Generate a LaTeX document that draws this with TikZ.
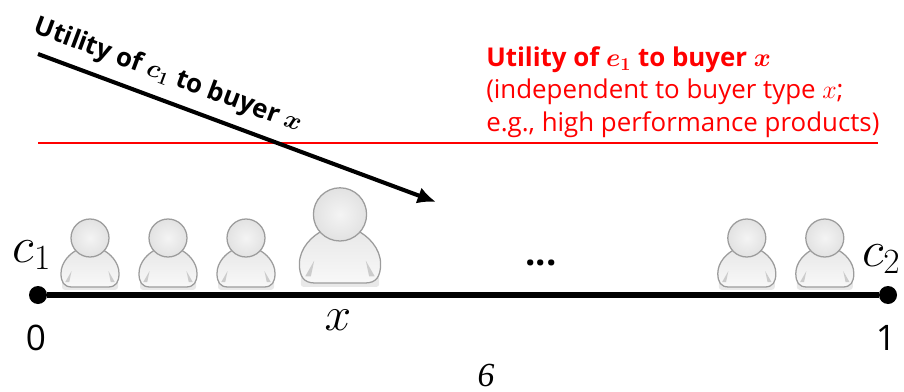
\RequirePackage{fix-cm}
\documentclass[tikz,border=0pt]{standalone}
\usepackage{amsmath,amssymb,bm}
\usepackage{fontspec}
\setmainfont{Open Sans}
\newfontfamily\pagefont{Liberation Serif}
\usetikzlibrary{arrows.meta,positioning,calc}
\definecolor{Rim}{HTML}{9C9C9C}
\definecolor{HeadIn}{HTML}{F4F4F4}
\definecolor{HeadOut}{HTML}{E2E2E2}
\definecolor{BodyTop}{HTML}{E8E8E8}
\definecolor{BodyLow}{HTML}{F8F8F8}
\definecolor{Fold}{HTML}{CCCCCC}
\definecolor{Drop}{HTML}{E8E8E8}
\definecolor{Red}{HTML}{FF0000}

\begin{document}
\begin{tikzpicture}[
    buyer/.pic={
      \fill[Drop,rounded corners=2pt] (-0.7,-0.07) rectangle (0.7,0.2);
      \draw[Rim,line width=0.9pt,top color=BodyTop,bottom color=BodyLow]
        (-0.45,0) .. controls (-0.65,0) and (-0.725,0.12) .. (-0.725,0.34)
        .. controls (-0.725,0.62) and (-0.5,0.85) .. (-0.28,0.95)
        -- (0.28,0.95)
        .. controls (0.5,0.85) and (0.725,0.62) .. (0.725,0.34)
        .. controls (0.725,0.12) and (0.65,0) .. (0.45,0) -- cycle;
      \fill[Fold] (-0.62,0.12) -- (-0.46,0.4) -- (-0.52,0.12) -- cycle;
      \fill[Fold] (0.62,0.12) -- (0.46,0.4) -- (0.52,0.12) -- cycle;
      \draw[Rim,line width=0.9pt,inner color=HeadIn,outer color=HeadOut]
        (0,1.225) circle (0.475);
    },
    dotnode/.style={circle,fill=black,inner sep=0pt,minimum size=0.45cm},
    axisline/.style={line width=4.4pt,black},
    utilarrow/.style={line width=2.9pt,black,-{Latex[length=0.46cm,width=0.42cm]}},
    redline/.style={line width=1.1pt,Red},
    bigmath/.style={inner sep=0pt,font=\fontsize{36}{40}\selectfont},
    tick/.style={inner sep=0pt,font=\fontsize{25}{28}\selectfont}
  ]
    \useasboundingbox (0,0) rectangle (22.6,9.775);

    % utility of e1
    \coordinate (flatL) at (0.95,6.2);
    \coordinate (flatR) at (21.95,6.2);
    \draw[redline] (flatL) -- (flatR);
    \node[anchor=south west,inner sep=0pt,align=left,text=Red,
      font=\fontsize{18.4}{23.1}\selectfont] (flatlabel) at (12.15,6.33)
      {\textbf{Utility of $\bm{e_1}$ to buyer $\bm{x}$}\\
       (independent to buyer type $x$;\\
       e.g., high performance products)};

    % utility of c1
    \coordinate (slopeL) at (0.95,8.425);
    \coordinate (slopeR) at (10.9,4.725);
    \draw[utilarrow] (slopeL) -- (slopeR);
    \node[rotate=-20.5,inner sep=0pt,font=\boldmath\bfseries\fontsize{18.4}{21}\selectfont]
      (slopelabel) at (4.2,7.88) {Utility of $c_1$ to buyer $x$};

    % buyers
    \pic at (2.25,2.6) {buyer};
    \pic at (4.2,2.6) {buyer};
    \pic at (6.15,2.6) {buyer};
    \pic[scale=1.4] at (8.5,2.7) {buyer};
    \pic at (18.67,2.6) {buyer};
    \pic at (20.62,2.6) {buyer};
    \node[inner sep=0pt,font=\bfseries\fontsize{26}{28}\selectfont] (dots) at (13.52,3.2) {...};

    % line
    \node[dotnode] (zero) at (0.95,2.4) {};
    \node[dotnode] (one) at (22.2,2.4) {};
    \draw[axisline] (zero) -- (one);
    \node[bigmath] (cone) at (0.8,3.4) {$c_1$};
    \node[bigmath] (ctwo) at (22.03,3.3) {$c_2$};
    \node[bigmath,font=\fontsize{34}{38}\selectfont] (xpos) at (8.45,1.78) {$x$};
    \node[tick] (zerolabel) at (0.9,1.32) {0};
    \node[tick] (onelabel) at (22.15,1.32) {1};
    \node[inner sep=0pt,font=\pagefont\itshape\fontsize{24}{26}\selectfont] (pageno) at (12.15,0.38) {6};
  \end{tikzpicture}
\end{document}
